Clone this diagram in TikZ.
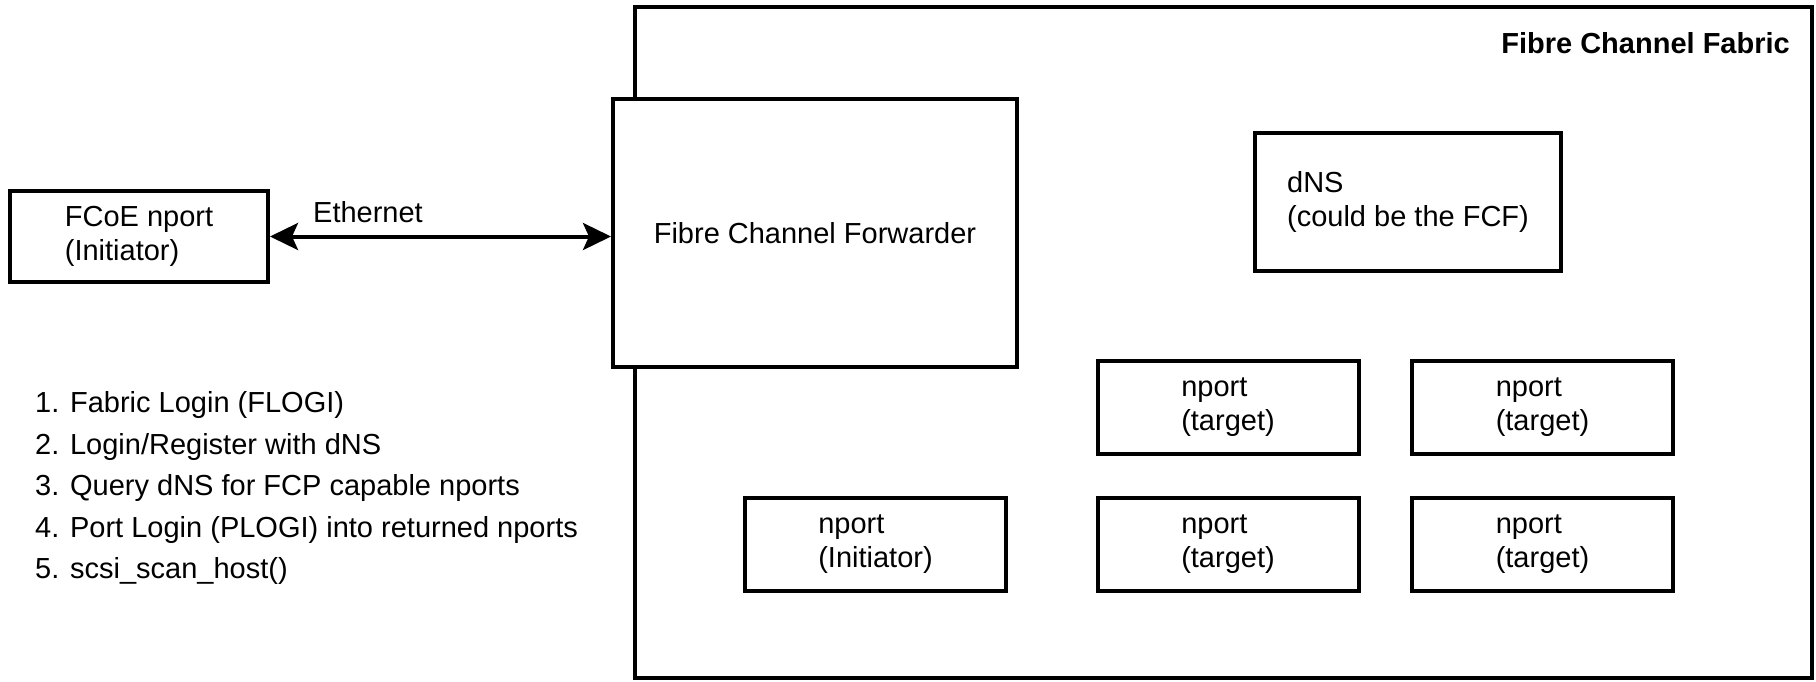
\documentclass[tikz,border=0pt]{standalone}
\usepackage{fontspec}
\setmainfont{Liberation Sans}
\usetikzlibrary{arrows.meta}
\begin{document}
\begin{tikzpicture}[x=1pt,y=-1pt,
  txt/.style={inner sep=0pt, align=left, font=\fontsize{29}{34}\selectfont},
  box/.style={txt, draw=black, line width=4pt, fill=white},
  portbox/.style={box, minimum width=261pt, minimum height=93pt},
  link/.style={line width=4pt, {Stealth[length=28pt,width=27pt,inset=6pt]}-{Stealth[length=28pt,width=27pt,inset=6pt]}}]
\useasboundingbox[fill=white] (0,0) rectangle (1816,681);

% fabric enclosure
\node[draw=black, line width=3.5pt, minimum width=1177pt, minimum height=671pt, inner sep=0pt] (fabric) at (1223.5,342.5) {};
\node[txt, anchor=east, font=\fontsize{29}{34}\selectfont\bfseries] (fabtitle) at (1790,43) {Fibre Channel Fabric};

% forwarder straddling the fabric edge
\node[box, minimum width=404pt, minimum height=268pt] (fcf) at (815,233) {Fibre Channel Forwarder};

% name server
\node[box, minimum width=306pt, minimum height=138pt] (dns) at (1408,202) {dNS\\(could be the FCF)};

% ports inside the fabric
\node[portbox] (t1) at (1228,407) {nport\\(target)};
\node[portbox] (t2) at (1542.5,407) {nport\\(target)};
\node[portbox] (ini) at (875.5,544) {nport\\(Initiator)};
\node[portbox] (t3) at (1228,544) {nport\\(target)};
\node[portbox] (t4) at (1542.5,544) {nport\\(target)};

% FCoE host port
\node[box, minimum width=258pt, minimum height=91pt] (fcoe) at (139,236.5) {FCoE nport\\(Initiator)};

% ethernet link
\draw[link] (fcoe.east) -- (fcoe.east -| fcf.west);
\node[txt] (eth) at (368,212) {Ethernet};

% login sequence
\node[txt, anchor=west, font=\fontsize{29}{41.5}\selectfont] (steps) at (35,488) {1. Fabric Login (FLOGI)\\2. Login/Register with dNS\\3. Query dNS for FCP capable nports\\4. Port Login (PLOGI) into returned nports\\5. scsi\_scan\_host()};
\end{tikzpicture}
\end{document}
